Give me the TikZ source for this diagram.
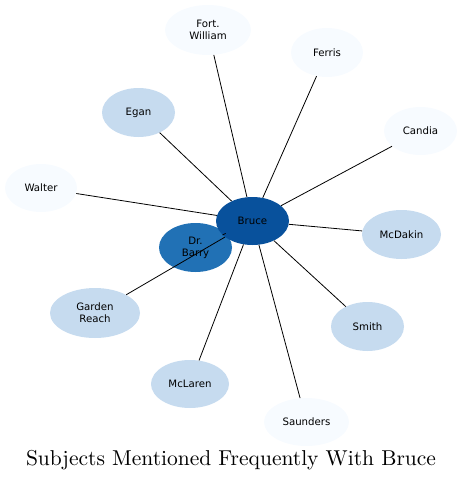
\documentclass[tikz,border=0pt]{standalone}
\usepackage{fontspec}
\newfontfamily\nodefont{DejaVu Sans}
\newfontfamily\titlefont{lmroman10-regular.otf}
\usetikzlibrary{shapes.geometric}
\definecolor{bdark}{RGB}{8,81,156}
\definecolor{bmid}{RGB}{33,113,181}
\definecolor{blight}{RGB}{198,219,239}
\definecolor{bpale}{RGB}{247,251,255}
\tikzset{
  ent/.style={ellipse, inner sep=0pt, draw=none, align=center,
    font=\nodefont\fontsize{10.2}{12}\selectfont},
  link/.style={draw=black, line width=0.8pt}
}
\begin{document}
\begin{tikzpicture}[x=1pt,y=-1pt]
\useasboundingbox (0,0) rectangle (462,482);
\node[ent, fill=bmid, minimum width=73pt, minimum height=49pt] (barry) at (195.5,247.5) {Dr.\\Barry};
\node[ent, fill=bdark, minimum width=73pt, minimum height=48pt] (bruce) at (252.5,221) {Bruce};
\node[ent, fill=bpale, minimum width=86pt, minimum height=50pt] (fort) at (208,30) {Fort.\\William};
\node[ent, fill=bpale, minimum width=72pt, minimum height=49pt] (ferris) at (327,52.5) {Ferris};
\node[ent, fill=blight, minimum width=73pt, minimum height=49pt] (egan) at (138.5,112.5) {Egan};
\node[ent, fill=bpale, minimum width=73pt, minimum height=48pt] (candia) at (420.5,131) {Candia};
\node[ent, fill=bpale, minimum width=72pt, minimum height=48pt] (walter) at (41,188) {Walter};
\node[ent, fill=blight, minimum width=79pt, minimum height=49pt] (mcdakin) at (401.5,234.5) {McDakin};
\node[ent, fill=blight, minimum width=90pt, minimum height=50pt] (garden) at (95,313) {Garden\\Reach};
\node[ent, fill=blight, minimum width=73pt, minimum height=49pt] (smith) at (367.5,326.5) {Smith};
\node[ent, fill=blight, minimum width=78pt, minimum height=48pt] (mclaren) at (190,384) {McLaren};
\node[ent, fill=bpale, minimum width=85pt, minimum height=48pt] (saunders) at (306.5,422) {Saunders};
\foreach \t in {barry,fort,ferris,egan,candia,walter,mcdakin,garden,smith,mclaren,saunders}
  \draw[link] (bruce) -- (\t);
\node[font=\titlefont\fontsize{21.5}{26}\selectfont] (title) at (231,460) {Subjects Mentioned Frequently With Bruce};
\end{tikzpicture}
\end{document}
